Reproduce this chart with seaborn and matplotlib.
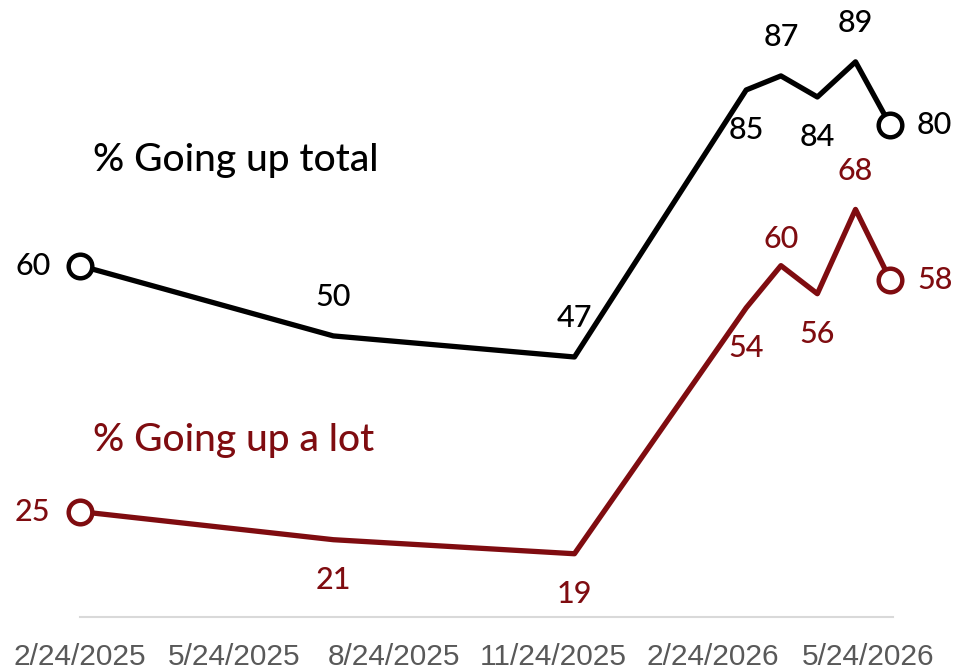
import pandas as pd
import numpy as np
import seaborn as sns
import matplotlib.pyplot as plt
import matplotlib.dates as mdates

# valores
datas = ["2025-02-24", "2025-07-20", "2025-12-06", "2026-03-15",
         "2026-04-04", "2026-04-25", "2026-05-17", "2026-06-06"]
total = [60, 50, 47, 85, 87, 84, 89, 80]
muito = [25, 21, 19, 54, 60, 56, 68, 58]

ticks = ["2025-02-24", "2025-05-24", "2025-08-24", "2025-11-24", "2026-02-24", "2026-05-24"]
tick_labels = ["2/24/2025", "5/24/2025", "8/24/2025", "11/24/2025", "2/24/2026", "5/24/2026"]

nome_total = "% Going up total"
nome_muito = "% Going up a lot"

# posição dos rótulos de cada ponto
pos_total = ["left", "above", "above", "below", "above", "below", "above", "right"]
pos_muito = ["left", "below", "below", "below", "above_near", "below", "above", "right"]

preto = "#000000"
vermelho = "#7f0c10"

df = pd.DataFrame({"data": pd.to_datetime(datas), "total": total, "muito": muito})

sns.set_theme(style="white")
plt.rcParams["font.family"] = ["Lato", "DejaVu Sans"]

fig = plt.figure(figsize=(9.58, 6.72), dpi=100)
ax = fig.add_axes([80 / 958, 55 / 672, (893 - 80) / 958, 617 / 672])

for col, cor in [("total", preto), ("muito", vermelho)]:
    sns.lineplot(data=df, x="data", y=col, ax=ax, color=cor, lw=3.8,
                 marker="o", markersize=17, markerfacecolor="white",
                 markeredgecolor=cor, markeredgewidth=3.2, markevery=[0, len(df) - 1],
                 clip_on=False, zorder=3)

offsets = {"left": (-34, 0), "right": (32, 0), "above": (0, 28),
           "above_near": (0, 19), "below": (0, -29)}

for col, cor, pos in [("total", preto, pos_total), ("muito", vermelho, pos_muito)]:
    for d, v, p in zip(df["data"], df[col], pos):
        ax.annotate(str(v), (mdates.date2num(d), v), xytext=offsets[p],
                    textcoords="offset points", ha="center", va="center",
                    fontsize=22, color=cor, fontweight="medium")

inicio = mdates.date2num(pd.Timestamp("2025-02-24"))
ax.text(inicio + 7.5, 75, nome_total, fontsize=28, color=preto, va="center", ha="left",
        fontweight="medium")
ax.text(inicio + 7.5, 35.1, nome_muito, fontsize=28, color=vermelho, va="center", ha="left",
        fontweight="medium")

ax.set_xlim(inicio, inicio + 468.6)
ax.set_ylim(10, 97.8)
ax.set_xticks([mdates.date2num(pd.Timestamp(t)) for t in ticks])
ax.set_xticklabels(tick_labels, fontsize=21.5, color="#595959",
                   family=["Liberation Sans", "DejaVu Sans"])
ax.set_yticks([])
ax.set_xlabel("")
ax.set_ylabel("")
for s in ["top", "right", "left"]:
    ax.spines[s].set_visible(False)
ax.spines["bottom"].set_color("#d9d9d9")
ax.spines["bottom"].set_linewidth(1.5)
ax.tick_params(axis="x", direction="out", length=7, width=1.5, color="#d9d9d9", pad=12)

fig.savefig("out.png", dpi=100)
